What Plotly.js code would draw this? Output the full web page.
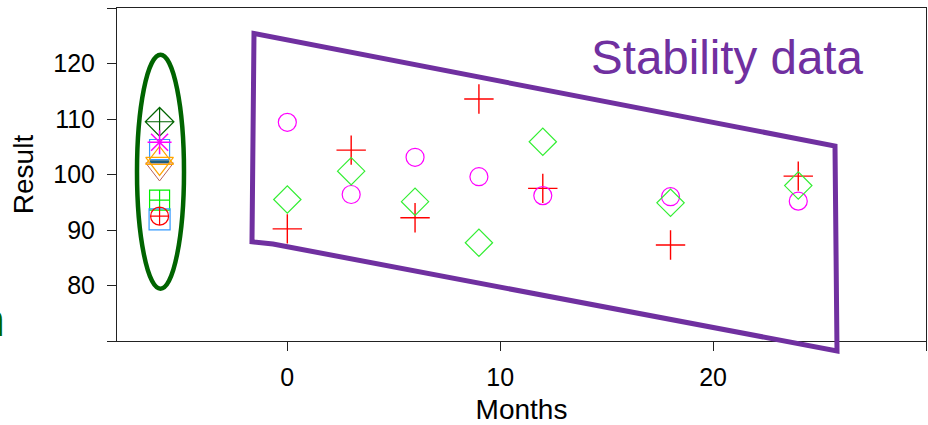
<!DOCTYPE html>
<html>
<head>
<meta charset="utf-8">
<script src="https://cdn.plot.ly/plotly-3.0.1.min.js"></script>
<style>html,body{margin:0;padding:0;background:#fff;}#chart{width:928px;height:425px;}</style>
</head>
<body>
<div id="chart"></div>
<script>
// ---- Stability data (Months vs Result) ----
var months = [0, 3, 6, 9, 12, 18, 24];
var batchPlus    = [90.2, 104.4, 92.2, 113.6, 97.5, 87.3, 99.7];
var batchCircle  = [109.4, 96.4, 103.1, 99.6, 96.2, 96.0, 95.2];
var batchDiamond = [95.5, 100.6, 95.1, 87.7, 105.9, 94.9, 98.0];

// ---- Calibration data (all at one position) ----
var calibMonth = -6;
var calibNames   = ["c1", "c2", "c3", "c4", "c5", "c6", "c7", "c8", "c9", "c10"];
var calibValues  = [101.0, 109.5, 104.5, 102.3, 102.9, 102.0, 105.8, 95.4, 91.9, 92.5];

// tick labels
var xTickVals = [0, 10, 20, 30];
var xTickText = ["0", "10", "20", ""];
var yTickVals = [70, 80, 90, 100, 110, 120, 130];
var yTickText = ["", "80", "90", "100", "110", "120", ""];

var calibStyle = [
  {symbol: "triangle-down-open", color: "#b8605a", size: 24, width: 1},
  {symbol: "diamond-cross-open", color: "#006400", size: 22},
  {symbol: "square-open", color: "#3399ff", size: 20},
  {symbol: "line-ew-open", color: "#1f5f7f", size: 14, width: 3},
  {symbol: "triangle-up-open", color: "#ffa500", size: 24},
  {symbol: "triangle-down-open", color: "#ffa500", size: 24},
  {symbol: "asterisk-open", color: "#ff00ff", size: 20, width: 1.5},
  {symbol: "square-cross-open", color: "#00ee00", size: 20},
  {symbol: "square-open", color: "#3399ff", size: 21},
  {symbol: "circle-cross-open", color: "#ff0000", size: 18}
];

var traces = [];
traces.push({x: months, y: batchPlus, type: "scatter", mode: "markers", name: "Batch A",
  marker: {symbol: "cross-thin-open", size: 21, color: "#ff0000", line: {color: "#ff0000", width: 1.4}}});
traces.push({x: months, y: batchCircle, type: "scatter", mode: "markers", name: "Batch B",
  marker: {symbol: "circle-open", size: 18, color: "#ff00ff", line: {color: "#ff00ff", width: 1.2}}});
traces.push({x: months, y: batchDiamond, type: "scatter", mode: "markers", name: "Batch C",
  marker: {symbol: "diamond-open", size: 21, color: "#33ee33", line: {color: "#33ee33", width: 1.2}}});

calibValues.forEach(function (v, i) {
  var s = calibStyle[i];
  traces.push({x: [calibMonth], y: [v], type: "scatter", mode: "markers", name: calibNames[i],
    marker: {symbol: s.symbol, size: s.size, color: s.color, line: {color: s.color, width: s.width || 1.2}}});
});

// pixel -> paper helpers for decorative call-outs
var L = 117, R = 926, T = 8, B = 341;
function PX(p) { return (p - L) / (R - L); }
function PY(p) { return (B - p) / (B - T); }

var poly = [[254, 33.5], [835, 146], [837, 351], [273, 244], [252, 241.7]];
var path = "M" + poly.map(function (p) { return PX(p[0]).toFixed(5) + "," + PY(p[1]).toFixed(5); }).join(" L") + " Z";

var FAM = "Liberation Sans, Arial, sans-serif";
var axisFont = {family: FAM, size: 25, color: "#000"};

var layout = {
  width: 928, height: 425,
  margin: {l: L, r: 928 - R, t: T, b: 425 - B},
  paper_bgcolor: "#fff", plot_bgcolor: "#fff",
  showlegend: false,
  xaxis: {
    range: [-8, 30], tickvals: xTickVals, ticktext: xTickText,
    ticks: "outside", ticklen: 9, tickcolor: "#222", tickwidth: 1, ticklabelstandoff: 5,
    showline: true, linecolor: "#222", linewidth: 1, mirror: true,
    showgrid: false, zeroline: false, tickfont: axisFont,
    title: {text: "Months", font: {family: FAM, size: 28, color: "#000"}, standoff: 14}
  },
  yaxis: {
    range: [70, 130], tickvals: yTickVals, ticktext: yTickText,
    ticks: "outside", ticklen: 9, tickcolor: "#222", tickwidth: 1, ticklabelstandoff: 7,
    showline: true, linecolor: "#222", linewidth: 1, mirror: true,
    showgrid: false, zeroline: false, tickfont: axisFont,
    title: {text: "Result", font: {family: FAM, size: 28, color: "#000"}, standoff: 11}
  },
  shapes: [
    {type: "path", xref: "paper", yref: "paper", path: path, line: {color: "#7030a0", width: 5}, layer: "above"},
    {type: "circle", xref: "paper", yref: "paper", x0: PX(137), x1: PX(184), y0: PY(288.7), y1: PY(54.7),
     line: {color: "#006400", width: 4.5}, layer: "above"}
  ],
  annotations: [
    {text: "Stability data", xref: "paper", yref: "paper", x: PX(589), y: PY(58), xanchor: "left", yanchor: "middle",
     showarrow: false, font: {family: FAM, size: 47.5, color: "#7030a0"}},
    {text: "Calibration", xref: "paper", yref: "paper", x: PX(7), y: PY(320), xanchor: "right", yanchor: "middle",
     showarrow: false, font: {family: FAM, size: 46, color: "#006400"}}
  ]
};

Plotly.newPlot("chart", traces, layout, {displayModeBar: false, staticPlot: true});
</script>
</body>
</html>
